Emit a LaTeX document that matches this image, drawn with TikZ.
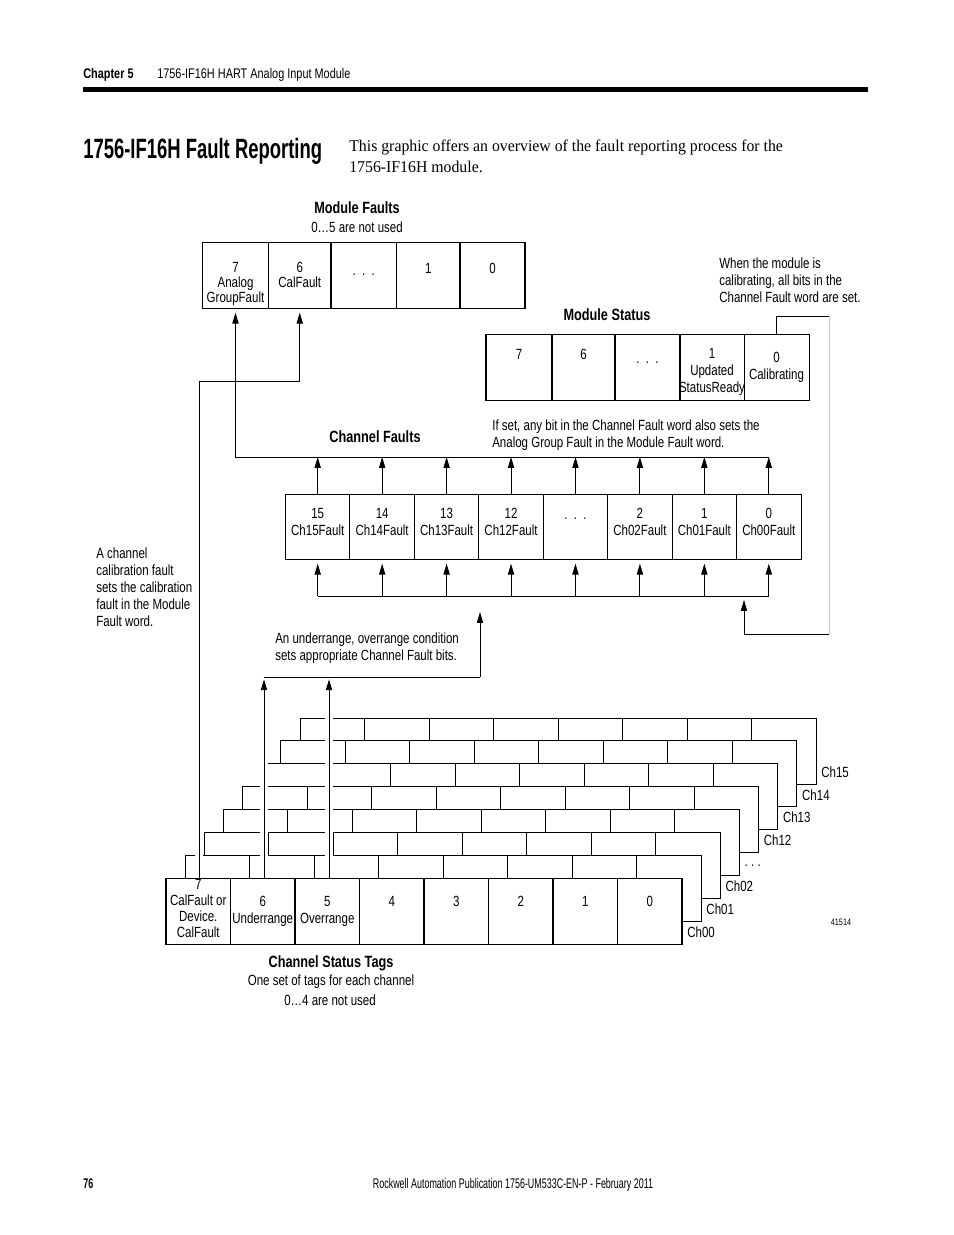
\documentclass[tikz,border=0pt]{standalone}
\usepackage{fontspec}
\setmainfont{Liberation Serif}
\newfontfamily\dfont{Liberation Sans}[FakeStretch=0.78]
\newfontfamily\ffont{Liberation Sans}[FakeStretch=0.64]
\newfontfamily\tfont{Liberation Sans}[FakeStretch=0.66]
\newfontfamily\sfont{Liberation Serif}[FakeStretch=0.96]
\usetikzlibrary{arrows.meta}
\tikzset{
  cellbox/.style={draw, line width=0.65pt, fill=white, inner sep=0pt, outer sep=0pt, minimum height=66*0.644pt},
  conn/.style={line width=0.6pt},
  arr/.style={conn, -{Triangle[length=7pt,width=4pt]}},
  txt/.style={font=\dfont\fontsize{9.5}{11}\selectfont, inner sep=0pt, align=center},
  note/.style={font=\dfont\fontsize{9.5}{10.95}\selectfont, inner sep=0pt, align=left, anchor=north west},
  ttl/.style={font=\dfont\bfseries\fontsize{10.5}{12}\selectfont, inner sep=0pt, anchor=base},
}
\begin{document}
\begin{tikzpicture}[x=0.644pt,y=-0.644pt]
\useasboundingbox (0,0) rectangle (954,1235);
\fill[white] (0,0) rectangle (954,1235);

% ---------- header ----------
\node[font=\dfont\bfseries\fontsize{9}{11}\selectfont, anchor=base west, inner sep=0pt] (chap) at (83,78) {Chapter 5};
\node[font=\dfont\fontsize{9}{11}\selectfont, anchor=base west, inner sep=0pt] (chapname) at (157,78) {1756-IF16H HART Analog Input Module};
\coordinate (ruleL) at (83,89.5);
\coordinate (ruleR) at (868,89.5);
\draw[line width=2.7pt] (ruleL) -- (ruleR);
\node[font=\tfont\bfseries\fontsize{18}{20}\selectfont, anchor=base west, inner sep=0pt] (title) at (83,158) {1756-IF16H Fault Reporting};
\node[font=\sfont\fontsize{10.6}{13.5}\selectfont, anchor=north west, inner sep=0pt, align=left] (intro) at (349,139.5) {This graphic offers an overview of the fault reporting process for the\\1756-IF16H module.};

% ---------- Module Faults ----------
\node[ttl] (mftitle) at (357,213.5) {Module Faults};
\node[txt, anchor=base] (mfsub) at (357,232.5) {0…5 are not used};
\node[cellbox, minimum width=66*0.644pt] (mf7) at (235.5,275) {};
\node[cellbox, minimum width=62.5*0.644pt] (mf6) at (299.75,275) {};
\node[cellbox, minimum width=65.5*0.644pt] (mfd) at (363.75,275) {};
\node[cellbox, minimum width=63.5*0.644pt] (mf1) at (428.25,275) {};
\node[cellbox, minimum width=65*0.644pt] (mf0) at (492.5,275) {};
\node[txt, anchor=north, font=\dfont\fontsize{9.5}{9.6}\selectfont] (mf7t) at (235.5,262) {7\\Analog\\GroupFault};
\node[txt, anchor=north, font=\dfont\fontsize{9.5}{9.6}\selectfont] (mf6t) at (299.75,262) {6\\CalFault};
\node[txt, anchor=base] (mfdt) at (363.75,275) {.\ \ .\ \ .};
\node[txt] (mf1t) at (428.25,268) {1};
\node[txt] (mf0t) at (492.5,268) {0};

% ---------- Module Status ----------
\node[ttl] (mstitle) at (607,320.5) {Module Status};
\node[note] (calnote) at (719,257.5) {When the module is\\calibrating, all bits in the\\Channel Fault word are set.};
\node[cellbox, minimum width=66*0.644pt] (ms7) at (519,367) {};
\node[cellbox, minimum width=63*0.644pt] (ms6) at (583.5,367) {};
\node[cellbox, minimum width=65*0.644pt] (msd) at (647.5,367) {};
\node[cellbox, minimum width=64*0.644pt] (ms1) at (712,367) {};
\node[cellbox, minimum width=65*0.644pt] (ms0) at (776.5,367) {};
\node[txt] (ms7t) at (519,354) {7};
\node[txt] (ms6t) at (583.5,354) {6};
\node[txt, anchor=base] (msdt) at (647.5,363) {.\ \ .\ \ .};
\node[txt, anchor=north, font=\dfont\fontsize{9.5}{10.95}\selectfont] (ms1t) at (712,348.5) {1\\Updated\\StatusReady};
\node[txt, anchor=north, font=\dfont\fontsize{9.5}{10.95}\selectfont] (ms0t) at (776.5,351.5) {0\\Calibrating};

% ---------- Channel Faults ----------
\node[ttl] (cftitle) at (375,442) {Channel Faults};
\node[note] (cfnote) at (492,419) {If set, any bit in the Channel Fault word also sets the\\Analog Group Fault in the Module Fault word.};
\foreach \p/\n in {0/15,1/14,2/13,3/12,4/d,5/2,6/1,7/0}
  \node[cellbox, minimum width=64.44*0.644pt, minimum height=65*0.644pt] (cf\n) at ({285.5+64.44*(\p+0.5)},526.5) {};
\foreach \n/\lab in {15/{15\\Ch15Fault},14/{14\\Ch14Fault},13/{13\\Ch13Fault},12/{12\\Ch12Fault},2/{2\\Ch02Fault},1/{1\\Ch01Fault},0/{0\\Ch00Fault}}
  \node[txt, anchor=north, font=\dfont\fontsize{9.5}{10.95}\selectfont] (cf\n t) at ([yshift=-8.8pt]cf\n.north) {\lab};
\node[txt, anchor=base] (cfdt) at ([yshift=-16.1pt]cfd.north) {.\ \ .\ \ .};

% ---------- notes on left ----------
\node[note] (calfnote) at (96,547.5) {A channel\\calibration fault\\sets the calibration\\fault in the Module\\Fault word.};
\node[note] (ovrnote) at (275,632.5) {An underrange, overrange condition\\sets appropriate Channel Fault bits.};

% ---------- stacked channel status tags ----------
\foreach \k in {7,6,5,4,3,2,1} {
  \begin{scope}[shift={({19.14*\k},{-22.86*\k})}]
    \draw[conn, fill=white] (166,878) rectangle (682,944);
    \foreach \i in {1,...,7} \draw[conn] ({166+64.5*\i},878) -- ({166+64.5*\i},944);
  \end{scope}
}
\foreach \x in {199,264,329} \draw[white, line width=5.2pt] (\x,700) -- (\x,877.4);
\foreach \p/\n in {0/7,1/6,2/5,3/4,4/3,5/2,6/1,7/0}
  \node[cellbox, minimum width=64.5*0.644pt] (cs\n) at ({166+64.5*(\p+0.5)},911) {};
\node[txt, anchor=north, font=\dfont\fontsize{9.5}{10.3}\selectfont] (cs7t) at (198.25,879.5) {7\\CalFault or\\Device.\\CalFault};
\node[txt, anchor=north, font=\dfont\fontsize{9.5}{10.9}\selectfont] (cs6t) at (262.75,896.3) {6\\Underrange};
\node[txt, anchor=north, font=\dfont\fontsize{9.5}{10.9}\selectfont] (cs5t) at (327.25,896.3) {5\\Overrange};
\foreach \n in {4,3,2,1,0}
  \node[txt] (cs\n t) at ([yshift=-14.8pt]cs\n.north) {\n};
\foreach \k/\lab in {0/Ch00,1/Ch01,2/Ch02,4/Ch12,5/Ch13,6/Ch14,7/Ch15}
  \node[txt, anchor=west] (lab\k) at ({682+19.14*\k+5},{944-22.86*\k-12}) {\lab};
\node[txt, anchor=base west] (lab3) at ({682+19.14*3+5},866) {.\ .\ .};
\node[font=\dfont\fontsize{6}{7}\selectfont, inner sep=0pt] (fignum) at (841,922) {41514};
\node[ttl] (cstitle) at (331,967.5) {Channel Status Tags};
\node[txt, anchor=base] (cssub1) at (331,985) {One set of tags for each channel};
\node[txt, anchor=base] (cssub2) at (330,1005) {0…4 are not used};

% ---------- connectors ----------
\coordinate (c7top) at (199,878);
\coordinate (c6top) at (264,878);
\coordinate (c5top) at (329,878);
\coordinate (calbend) at (199,381);
\draw[arr, shorten >=3pt] (c7top) -- (calbend) -| (mf6.south);

\coordinate (cfbus) at (cf0.north |- 0,457);
\draw[arr, shorten >=3pt] (cfbus) -| (mf7.south);
\foreach \n in {15,14,13,12,d,2,1,0}
  \draw[arr] (cf\n.north) -- (cf\n.north |- cfbus);

\coordinate (cfbot) at (cf0.south |- 0,596);
\draw[conn] (cfbot) -- (cf15.south |- cfbot);
\foreach \n in {15,14,13,12,d,2,1,0}
  \draw[arr, shorten >=3pt] (cf\n.south |- cfbot) -- (cf\n.south);

\coordinate (calUp) at (776.5,316);
\coordinate (calR) at (829,316);
\coordinate (calRB) at (829,634);
\coordinate (calIn) at (744,634);
\coordinate (calTip) at (744,600);
\draw[conn] (ms0.north) -- (calUp) -- (calR);
\draw[conn, draw=black!22] (calR) -- (calRB);
\draw[conn] (calRB) -- (calIn);
\draw[arr] (calIn) -- (calTip);

\coordinate (ovrL) at (264,677);
\coordinate (ovrM) at (329,677);
\coordinate (ovrR) at (480,677);
\coordinate (ovrTip) at (480,612);
\draw[arr, shorten >=1.5pt] (c6top) -- (ovrL);
\draw[arr, shorten >=1.5pt] (c5top) -- (ovrM);
\draw[conn] (ovrL) -- (ovrR);
\draw[arr] (ovrR) -- (ovrTip);

% ---------- footer ----------
\node[font=\ffont\bfseries\fontsize{9}{11}\selectfont, anchor=base west, inner sep=0pt] (pagenum) at (83,1188) {76};
\node[font=\ffont\fontsize{9}{11}\selectfont, anchor=base, inner sep=0pt] (footer) at (513,1188) {Rockwell Automation Publication 1756-UM533C-EN-P - February 2011};
\end{tikzpicture}
\end{document}
